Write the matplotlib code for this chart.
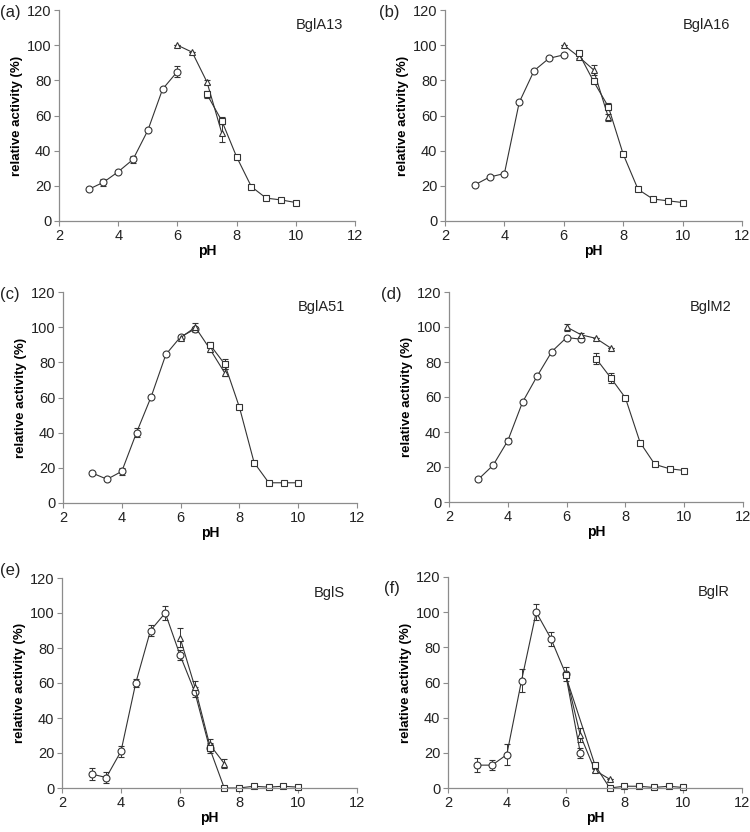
import matplotlib
matplotlib.use("Agg")
import matplotlib.pyplot as plt

plt.rcParams['font.family'] = ['Liberation Sans', 'DejaVu Sans']

# pH values and relative activity (%)
# circles / triangles / squares = three buffer systems per enzyme
a_circ_ph = [3, 3.5, 4, 4.5, 5, 5.5, 6]
a_circ = [18, 22, 28, 35, 51.5, 75, 85]
a_circ_err = [0, 2, 0, 2, 0, 0, 3]
a_tri_ph = [6, 6.5, 7, 7.5]
a_tri = [100, 96, 79, 50]
a_tri_err = [0, 0, 1, 5]
a_sq_ph = [7, 7.5, 8, 8.5, 9, 9.5, 10]
a_sq = [72, 57, 36.5, 19.5, 13, 12, 10.5]
a_sq_err = [2, 2, 1, 0, 0, 0, 0]

b_circ_ph = [3, 3.5, 4, 4.5, 5, 5.5, 6]
b_circ = [20.5, 25, 27, 67.5, 85.5, 92.5, 94.5]
b_circ_err = [0, 0, 0, 1, 0, 0, 0]
b_tri_ph = [6, 6.5, 7, 7.5]
b_tri = [100, 93.5, 86, 59]
b_tri_err = [0, 1, 3, 2]
b_sq_ph = [6.5, 7, 7.5, 8, 8.5, 9, 9.5, 10]
b_sq = [95.5, 79.5, 65, 38, 18, 12.5, 11.5, 10.5]
b_sq_err = [1, 1, 2, 1, 0, 0, 0, 0]

c_circ_ph = [3, 3.5, 4, 4.5, 5, 5.5, 6, 6.5]
c_circ = [17, 13.5, 18, 40, 60.5, 84.5, 94.5, 99]
c_circ_err = [0, 1, 2, 2.5, 0, 0, 1, 1]
c_tri_ph = [6, 6.5, 7, 7.5]
c_tri = [94, 100, 87.5, 74]
c_tri_err = [1, 2.5, 1.5, 2]
c_sq_ph = [7, 7.5, 8, 8.5, 9, 9.5, 10]
c_sq = [90, 79, 54.5, 23, 11.5, 11.5, 11.5]
c_sq_err = [1.5, 3, 1, 1, 0, 0, 0]

d_circ_ph = [3, 3.5, 4, 4.5, 5, 5.5, 6, 6.5]
d_circ = [13, 21, 35, 57, 72, 86, 94, 93]
d_circ_err = [0, 0, 1.5, 0, 0, 0, 0, 1]
d_tri_ph = [6, 6.5, 7, 7.5]
d_tri = [100, 95.5, 93.5, 88]
d_tri_err = [2, 1, 0, 0]
d_sq_ph = [7, 7.5, 8, 8.5, 9, 9.5, 10]
d_sq = [82, 71, 59.5, 34, 21.5, 19, 18]
d_sq_err = [3, 3, 1, 0, 0, 0, 0]

e_circ_ph = [3, 3.5, 4, 4.5, 5, 5.5, 6, 6.5, 7]
e_circ = [8, 6, 21, 60, 90, 100, 76, 55, 23]
e_circ_err = [3.5, 3, 3, 2.5, 3, 4, 3, 3, 3]
e_tri_ph = [6, 6.5, 7, 7.5]
e_tri = [86, 58, 25, 14]
e_tri_err = [5.5, 3, 3, 2.5]
e_sq_ph = [7, 7.5, 8, 8.5, 9, 9.5, 10]
e_sq = [23, 0, 0, 1, 0.5, 1, 0.5]
e_sq_err = [2, 0, 0, 0, 1, 0.5, 1]

f_circ_ph = [3, 3.5, 4, 4.5, 5, 5.5, 6, 6.5]
f_circ = [13, 13, 19, 61, 100, 85, 65, 20]
f_circ_err = [4, 3, 6, 6.5, 4.5, 4, 4, 3]
f_tri_ph = [6, 6.5, 7, 7.5]
f_tri = [65, 30, 10, 5]
f_tri_err = [0, 4, 1, 0]
f_sq_ph = [6, 7, 7.5, 8, 8.5, 9, 9.5, 10]
f_sq = [64, 13, 0, 1, 1, 0.3, 1, 0.3]
f_sq_err = [1, 1, 0, 0, 0, 1, 0.5, 1]

panel_tags = ['(a)', '(b)', '(c)', '(d)', '(e)', '(f)']
enzymes = ['BglA13', 'BglA16', 'BglA51', 'BglM2', 'BglS', 'BglR']

panels = [
    (a_circ_ph, a_circ, a_circ_err, a_tri_ph, a_tri, a_tri_err, a_sq_ph, a_sq, a_sq_err),
    (b_circ_ph, b_circ, b_circ_err, b_tri_ph, b_tri, b_tri_err, b_sq_ph, b_sq, b_sq_err),
    (c_circ_ph, c_circ, c_circ_err, c_tri_ph, c_tri, c_tri_err, c_sq_ph, c_sq, c_sq_err),
    (d_circ_ph, d_circ, d_circ_err, d_tri_ph, d_tri, d_tri_err, d_sq_ph, d_sq, d_sq_err),
    (e_circ_ph, e_circ, e_circ_err, e_tri_ph, e_tri, e_tri_err, e_sq_ph, e_sq, e_sq_err),
    (f_circ_ph, f_circ, f_circ_err, f_tri_ph, f_tri, f_tri_err, f_sq_ph, f_sq, f_sq_err),
]

# axes boxes in pixels: left, right, top, bottom
W, H = 750, 832
boxes = [
    (59, 355, 10, 221), (445, 742, 10, 221),
    (63, 357, 292, 503), (449, 743, 292, 502),
    (62, 357, 578, 788), (448, 742, 577, 788),
]
# where the (a)...(f) tags sit, pixels (left, centre y)
tag_pos = [(0, 13), (379, 13), (0, 295), (381, 295), (0, 570), (384, 588)]

fig = plt.figure(figsize=(7.5, 8.32), dpi=100)

line_col = '#333333'
spine_col = '#8c8c8c'

for i, (box, data) in enumerate(zip(boxes, panels)):
    l, r, t, b = box
    ax = fig.add_axes([l / W, 1 - b / H, (r - l) / W, (b - t) / H])
    cx, cy, ce, tx, ty, te, sx, sy, se = data
    for x, y, e, m in [(cx, cy, ce, 'o'), (tx, ty, te, '^'), (sx, sy, se, 's')]:
        ms = 5 if m == 'o' else 4.5
        ax.errorbar(x, y, yerr=e, fmt='-' + m, color=line_col, lw=0.8,
                    ms=ms, mfc='white', mec=line_col, mew=0.8,
                    ecolor=line_col, elinewidth=0.7, capsize=2.5, capthick=0.7)
    ax.set_xlim(2, 12)
    ax.set_ylim(0, 120)
    ax.set_xticks([2, 4, 6, 8, 10, 12])
    ax.set_yticks([0, 20, 40, 60, 80, 100, 120])
    for s in ['top', 'right']:
        ax.spines[s].set_visible(False)
    for s in ['left', 'bottom']:
        ax.spines[s].set_color(spine_col)
        ax.spines[s].set_linewidth(0.9)
    ax.tick_params(direction='out', length=3.5, width=0.8, color=spine_col,
                   labelsize=10.5, labelcolor='#222222', pad=2)
    ax.set_xlabel('pH', fontsize=10, fontweight='bold', labelpad=1)
    ax.set_ylabel('relative activity (%)', fontsize=9.5, fontweight='bold', labelpad=3)
    ax.text(0.96, 0.93, enzymes[i], transform=ax.transAxes, ha='right', va='center',
            fontsize=10.5, color='#222222')
    tx0, ty0 = tag_pos[i]
    fig.text(tx0 / W, 1 - ty0 / H, panel_tags[i], ha='left', va='center',
             fontsize=12, color='#222222')
    for ln in ax.get_lines():
        ln.set_clip_on(False)

fig.savefig('out.png', dpi=100)
